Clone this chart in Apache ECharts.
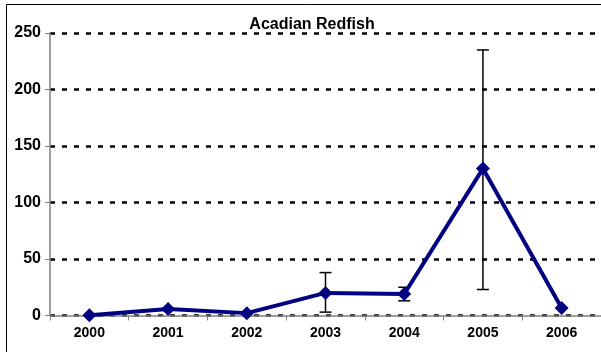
<!DOCTYPE html>
<html><head><meta charset="utf-8">
<script src="https://cdn.jsdelivr.net/npm/echarts@6/dist/echarts.min.js"></script>
<style>html,body{margin:0;padding:0;background:#fff}#c{width:601px;height:352px}</style>
</head><body><div id="c"></div>
<script>
const categories = ['2000','2001','2002','2003','2004','2005','2006'];
const values = [0.3, 5.7, 2.1, 20, 19, 130, 6.6];
const errLow = [null, null, null, 3, 13, 23, null];
const errHigh = [null, null, null, 38, 25, 235, null];
const yTicks = [0, 50, 100, 150, 200, 250];

const errData = categories.map((c, i) => [i, errLow[i], errHigh[i]]).filter(d => d[1] != null);

const chart = echarts.init(document.getElementById('c'), null, {renderer: 'canvas'});
chart.setOption({
  animation: false,
  backgroundColor: '#fff',
  title: {
    text: 'Acadian Redfish', left: 307, top: 12, textAlign: 'center',
    textStyle: {fontFamily: 'Liberation Sans, Arial', fontSize: 16, fontWeight: 'bold', color: '#000'}
  },
  graphic: [{
    type: 'rect', shape: {x: 6.5, y: 4.5, width: 700, height: 400},
    style: {fill: null, stroke: '#000', lineWidth: 1}, z: -1
  }],
  grid: {left: 50, right: -6, top: 33, bottom: 36.5},
  xAxis: {
    type: 'category', data: categories, boundaryGap: true,
    axisLine: {lineStyle: {color: '#808080', width: 1.5}},
    axisTick: {show: true, length: 5, lineStyle: {color: '#808080'}},
    axisLabel: {margin: 11, fontFamily: 'Liberation Sans, Arial', fontSize: 14, fontWeight: 'bold', color: '#000'}
  },
  yAxis: {
    type: 'value', min: yTicks[0], max: yTicks[yTicks.length - 1], interval: 50,
    axisLine: {show: true, lineStyle: {color: '#808080', width: 1.5}},
    axisTick: {show: true, length: 5, lineStyle: {color: '#808080'}},
    axisLabel: {margin: 9, fontFamily: 'Liberation Sans, Arial', fontSize: 16, fontWeight: 'bold', color: '#000'},
    splitLine: {show: true, lineStyle: {color: '#000', width: 2.5, type: [5, 7]}}
  },
  series: [{
    type: 'custom',
    data: errData,
    z: 1,
    renderItem: function (params, api) {
      const x = api.value(0);
      const lo = api.coord([x, api.value(1)]);
      const hi = api.coord([x, api.value(2)]);
      const hw = 6;
      const st = {stroke: '#000', lineWidth: 1.5};
      return {type: 'group', children: [
        {type: 'line', shape: {x1: lo[0], y1: lo[1], x2: hi[0], y2: hi[1]}, style: st},
        {type: 'line', shape: {x1: lo[0] - hw, y1: lo[1], x2: lo[0] + hw, y2: lo[1]}, style: st},
        {type: 'line', shape: {x1: hi[0] - hw, y1: hi[1], x2: hi[0] + hw, y2: hi[1]}, style: st}
      ]};
    }
  }, {
    type: 'line', data: values, z: 2,
    symbol: 'diamond', symbolSize: 14,
    lineStyle: {color: '#000080', width: 4},
    itemStyle: {color: '#000080'}
  }]
});
</script></body></html>
